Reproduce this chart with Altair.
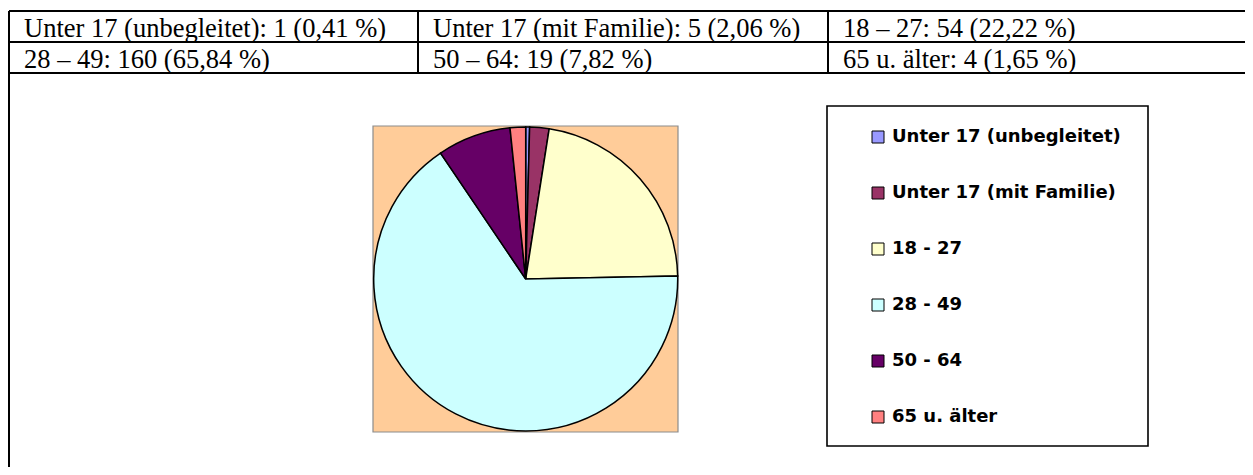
import altair as alt
import pandas as pd

# ---- data ----
legend_labels = ["Unter 17 (unbegleitet)", "Unter 17 (mit Familie)", "18 - 27",
                 "28 - 49", "50 - 64", "65 u. älter"]
table_labels = ["Unter 17 (unbegleitet)", "Unter 17 (mit Familie)", "18 – 27",
                "28 – 49", "50 – 64", "65 u. älter"]
counts = [1, 5, 54, 160, 19, 4]
percents = ["0,41", "2,06", "22,22", "65,84", "7,82", "1,65"]
colors = ["#9999FF", "#993366", "#FFFFCC", "#CCFFFF", "#660066", "#FF8080"]

W, H = 1237, 459

pie_df = pd.DataFrame({"cat": legend_labels, "count": counts, "idx": list(range(len(counts)))})

# table text cells (2 rows x 3 columns)
col_left = [1, 410, 820]
row_top = [3, 34]
txt_rows = []
for i, (lab, c, p) in enumerate(zip(table_labels, counts, percents)):
    txt_rows.append({"t": f"{lab}: {c} ({p} %)",
                     "x": col_left[i % 3] + 15,
                     "y": row_top[i // 3] + 26})
txt_df = pd.DataFrame(txt_rows)

# table grid lines
grid_df = pd.DataFrame([
    {"x": 1, "x2": W, "y": 3, "y2": 3},
    {"x": 1, "x2": W, "y": 34, "y2": 34},
    {"x": 1, "x2": W, "y": 65, "y2": 65},
    {"x": 1, "x2": 1, "y": 3, "y2": H},
    {"x": 410, "x2": 410, "y": 3, "y2": 65},
    {"x": 820, "x2": 820, "y": 3, "y2": 65},
])

one = pd.DataFrame({"k": [0]})

grid = alt.Chart(grid_df).mark_rule(color="black", strokeWidth=2).encode(
    x=alt.X("x:Q", scale=None, axis=None),
    x2="x2:Q",
    y=alt.Y("y:Q", scale=None, axis=None),
    y2="y2:Q",
)

cells = alt.Chart(txt_df).mark_text(
    font="Liberation Serif", fontSize=26.5, align="left", baseline="alphabetic", color="black"
).encode(
    x=alt.X("x:Q", scale=None, axis=None),
    y=alt.Y("y:Q", scale=None, axis=None),
    text="t:N",
)

plot_bg = alt.Chart(one).mark_rect(fill="#FFCC99", stroke="#8C8C8C", strokeWidth=1.2).encode(
    x=alt.value(365), x2=alt.value(670), y=alt.value(118), y2=alt.value(424)
)

legend_box = alt.Chart(one).mark_rect(fill="white", stroke="black", strokeWidth=1.6).encode(
    x=alt.value(819), x2=alt.value(1140), y=alt.value(98), y2=alt.value(438)
)

pie = alt.Chart(pie_df).mark_arc(radius=152, stroke="black", strokeWidth=1.5).encode(
    theta=alt.Theta("count:Q", stack=True),
    order=alt.Order("idx:Q"),
    color=alt.Color(
        "cat:N",
        scale=alt.Scale(domain=legend_labels, range=colors),
        sort=legend_labels,
        legend=alt.Legend(
            title=None, orient="none", legendX=861, legendY=120,
            symbolType="square", symbolSize=144, symbolStrokeColor="black",
            symbolStrokeWidth=1, symbolOpacity=1,
            labelFont="DejaVu Sans", labelFontWeight="bold", labelFontSize=18,
            labelColor="black", labelOffset=5, rowPadding=38, padding=0,
            labelLimit=400,
        ),
    ),
    x=alt.value(517.7),
    y=alt.value(271),
)

chart = alt.layer(grid, cells, plot_bg, legend_box, pie).properties(
    width=W, height=H, padding=0, autosize=alt.AutoSizeParams(type="none"),
    background="white",
).configure_view(stroke=None)

chart.save("out.html", embed_options={"renderer": "svg", "actions": False})
